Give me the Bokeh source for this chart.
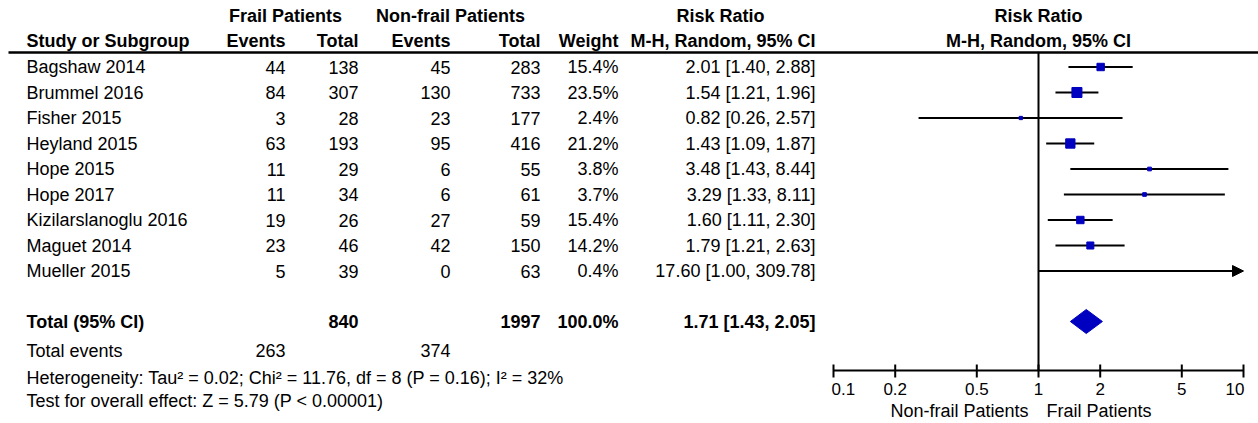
import math
from bokeh.plotting import figure
from bokeh.models import Range1d, LogScale, ColumnDataSource, Arrow, NormalHead
from bokeh.core.properties import value
from bokeh.embed import file_html
from bokeh.resources import INLINE

# ---------------- data ----------------
studies = ["Bagshaw 2014", "Brummel 2016", "Fisher 2015", "Heyland 2015", "Hope 2015",
           "Hope 2017", "Kizilarslanoglu 2016", "Maguet 2014", "Mueller 2015"]
frail_events = [44, 84, 3, 63, 11, 11, 19, 23, 5]
frail_total = [138, 307, 28, 193, 29, 34, 26, 46, 39]
nonfrail_events = [45, 130, 23, 95, 6, 6, 27, 42, 0]
nonfrail_total = [283, 733, 177, 416, 55, 61, 59, 150, 63]
weights = [15.4, 23.5, 2.4, 21.2, 3.8, 3.7, 15.4, 14.2, 0.4]
rr = [2.01, 1.54, 0.82, 1.43, 3.48, 3.29, 1.60, 1.79, 17.60]
rr_low = [1.40, 1.21, 0.26, 1.09, 1.43, 1.33, 1.11, 1.21, 1.00]
rr_high = [2.88, 1.96, 2.57, 1.87, 8.44, 8.11, 2.30, 2.63, 309.78]

total_frail = 840
total_nonfrail = 1997
total_weight = 100.0
total_rr = 1.71
total_low = 1.43
total_high = 2.05
events_frail = 263
events_nonfrail = 374
heterogeneity = "Heterogeneity: Tau\u00b2 = 0.02; Chi\u00b2 = 11.76, df = 8 (P = 0.16); I\u00b2 = 32%"
overall = "Test for overall effect: Z = 5.79 (P < 0.00001)"

tick_values = [0.1, 0.2, 0.5, 1, 2, 5, 10]
tick_labels = ["0.1", "0.2", "0.5", "1", "2", "5", "10"]
axis_min, axis_max = 0.1, 10
favours_left = "Non-frail Patients"
favours_right = "Frail Patients"

# ---------------- layout ----------------
W, H = 1258, 423
X0, Y0 = 0, 0
FONT = value("Liberation Sans")
FS = "18px"
BLUE = "#0000C0"

# log axis: 0.1 at x 833, 10 at x 1243
PX_MIN, PX_MAX = 833, 1243
dpp = (math.log10(axis_max) - math.log10(axis_min)) / (PX_MAX - PX_MIN)
rr_start = 10 ** (math.log10(axis_min) - (PX_MIN - X0) * dpp)
rr_end = 10 ** (math.log10(axis_max) + (X0 + W - PX_MAX) * dpp)

p = figure(width=W, height=H, x_range=Range1d(X0, X0 + W), y_range=Range1d(Y0 + H, Y0),
           output_backend="svg", toolbar_location=None, min_border=0,
           x_axis_location=None, y_axis_location=None, outline_line_color=None,
           background_fill_color="white", border_fill_color="white")
p.grid.visible = False
p.extra_x_ranges = {"rr": Range1d(rr_start, rr_end)}
p.extra_x_scales = {"rr": LogScale()}

ROW0, PITCH = 66.5, 25.5
row_y = [ROW0 + PITCH * i for i in range(len(studies))]
Y_TOTAL, Y_EVENTS, Y_HET, Y_TEST = 321, 350, 377, 400
Y_H1, Y_H2, Y_RULE, Y_AXIS = 15, 40, 52, 370


def txt(x, y, texts, align="left", bold=False, rng=None, size=FS, xoff=0):
    src = ColumnDataSource(dict(x=x, y=y, t=texts))
    kw = {}
    if rng:
        kw["x_range_name"] = rng
    p.text("x", "y", "t", source=src, text_font=FONT, text_font_size=size,
           text_align=align, text_baseline="middle", text_color="black",
           text_font_style="bold" if bold else "normal", x_offset=xoff, **kw)


# headers
txt([285, 450, 720], [Y_H1] * 3, ["Frail Patients", "Non-frail Patients", "Risk Ratio"],
    align="center", bold=True)
txt([26], [Y_H2], ["Study or Subgroup"], bold=True)
txt([285, 358, 450, 540, 618, 815], [Y_H2] * 6,
    ["Events", "Total", "Events", "Total", "Weight", "M-H, Random, 95% CI"],
    align="right", bold=True)
txt([1, 1], [Y_H1, Y_H2], ["Risk Ratio", "M-H, Random, 95% CI"], align="center",
    bold=True, rng="rr")

# header rule
p.segment(x0=[8], x1=[X0 + W], y0=[Y_RULE], y1=[Y_RULE], line_color="black", line_width=2.5)

# study rows
n = len(studies)
txt([26] * n, row_y, studies)
txt([285] * n, row_y, [str(v) for v in frail_events], align="right")
txt([358] * n, row_y, [str(v) for v in frail_total], align="right")
txt([450] * n, row_y, [str(v) for v in nonfrail_events], align="right")
txt([540] * n, row_y, [str(v) for v in nonfrail_total], align="right")
txt([618] * n, row_y, [f"{w:.1f}%" for w in weights], align="right")
txt([815] * n, row_y, [f"{r:.2f} [{a:.2f}, {b:.2f}]" for r, a, b in zip(rr, rr_low, rr_high)],
    align="right")

# total row
txt([26], [Y_TOTAL], ["Total (95% CI)"], bold=True)
txt([358, 540, 618, 815], [Y_TOTAL] * 4,
    [str(total_frail), str(total_nonfrail), f"{total_weight:.1f}%",
     f"{total_rr:.2f} [{total_low:.2f}, {total_high:.2f}]"], align="right", bold=True)

txt([26], [Y_EVENTS], ["Total events"])
txt([285, 450], [Y_EVENTS] * 2, [str(events_frail), str(events_nonfrail)], align="right")
txt([26, 26], [Y_HET, Y_TEST], [heterogeneity, overall])

# ---------------- forest ----------------
# line of no effect
p.segment(x0=[1], x1=[1], y0=[Y_RULE], y1=[Y_AXIS], x_range_name="rr",
          line_color="black", line_width=2)

# CIs within axis
seg = dict(x0=[], x1=[], y=[])
for lo, hi, y in zip(rr_low, rr_high, row_y):
    if hi <= axis_max:
        seg["x0"].append(max(lo, axis_min))
        seg["x1"].append(hi)
        seg["y"].append(y)
    else:
        p.add_layout(Arrow(end=NormalHead(size=11, fill_color="black", line_color="black"),
                           x_start=max(lo, axis_min), x_end=axis_max, y_start=y, y_end=y,
                           x_range_name="rr", line_color="black", line_width=2))
p.segment("x0", "y", "x1", "y", source=ColumnDataSource(seg), x_range_name="rr",
          line_color="black", line_width=2)

# study markers (size from weight)
sq = dict(x=[], y=[], s=[])
for r, w, y in zip(rr, weights, row_y):
    if axis_min <= r <= axis_max:
        sq["x"].append(r)
        sq["y"].append(y)
        sq["s"].append(2.5 + 0.32 * w)
p.scatter("x", "y", size="s", marker="square", source=ColumnDataSource(sq), x_range_name="rr",
          fill_color=BLUE, line_color=BLUE)

# pooled diamond
DH = 12
p.patch(x=[total_low, total_rr, total_high, total_rr],
        y=[Y_TOTAL, Y_TOTAL - DH, Y_TOTAL, Y_TOTAL + DH], x_range_name="rr",
        fill_color=BLUE, line_color=BLUE)

# axis
p.segment(x0=[axis_min], x1=[axis_max], y0=[Y_AXIS], y1=[Y_AXIS], x_range_name="rr",
          line_color="black", line_width=2)
p.segment(x0=tick_values, x1=tick_values, y0=[Y_AXIS - 6] * len(tick_values),
          y1=[Y_AXIS + 7] * len(tick_values), x_range_name="rr", line_color="black", line_width=2)
txt([tick_values[0]], [388], [tick_labels[0]], align="left", rng="rr", size="17px", xoff=-2)
txt(tick_values[1:-1], [388] * (len(tick_values) - 2), tick_labels[1:-1], align="center",
    rng="rr", size="17px")
txt([tick_values[-1]], [388], [tick_labels[-1]], align="right", rng="rr", size="17px", xoff=1)

txt([1], [410], [favours_left], align="right", rng="rr", xoff=-10)
txt([1], [410], [favours_right], align="left", rng="rr", xoff=8)

open("out.html", "w").write(file_html(p, INLINE))
